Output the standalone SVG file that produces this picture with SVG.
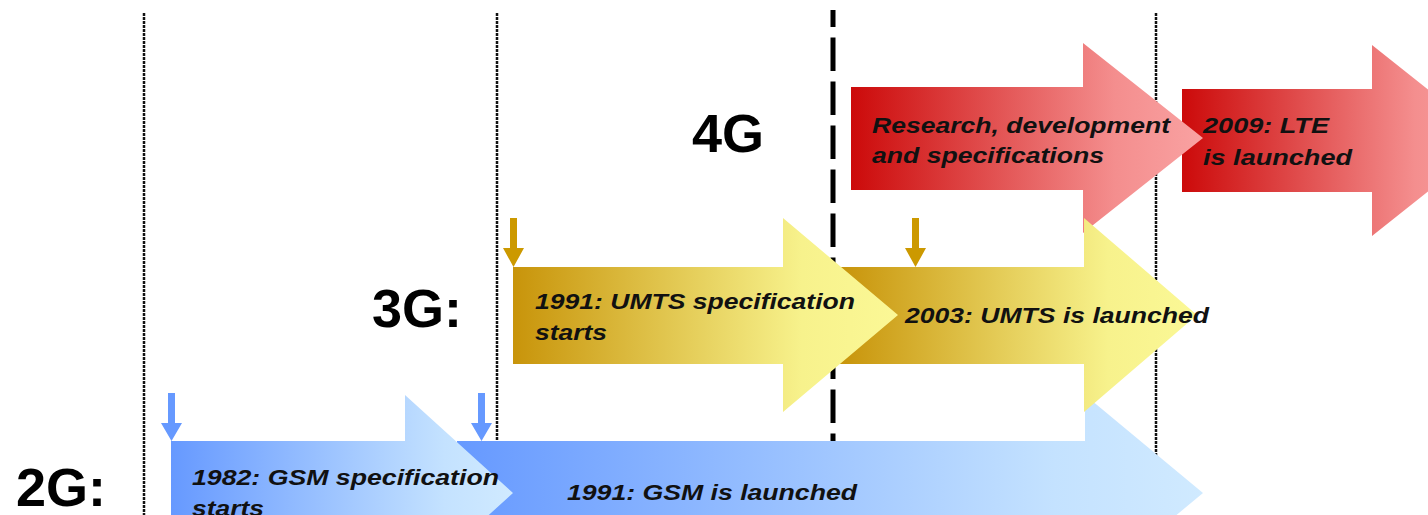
<svg xmlns="http://www.w3.org/2000/svg" width="1428" height="515" viewBox="0 0 1428 515">
<style>
.lbl{font-family:"Liberation Sans",Arial,sans-serif;font-weight:bold;font-style:italic;font-size:22px;fill:#111}
.big{font-family:"Liberation Sans",Arial,sans-serif;font-weight:bold;font-size:54px;fill:#000}
.dot{stroke:#111;stroke-width:2.5;stroke-dasharray:3 1;fill:none}
.dash{stroke:#000;stroke-width:5;stroke-dasharray:33.5 10.5;stroke-dashoffset:16.5;fill:none}
</style>
<defs>
<linearGradient id="gBlue" x1="0" y1="0" x2="1" y2="0">
<stop offset="0" stop-color="#6699FF"/><stop offset="0.8" stop-color="#C4E2FF"/><stop offset="1" stop-color="#D0EAFF"/>
</linearGradient>
<linearGradient id="gGold" x1="0" y1="0" x2="1" y2="0">
<stop offset="0" stop-color="#C8940A"/><stop offset="0.75" stop-color="#F7F28C"/><stop offset="1" stop-color="#FBF896"/>
</linearGradient>
<linearGradient id="gRed" x1="0" y1="0" x2="1" y2="0">
<stop offset="0" stop-color="#CC0A0A"/><stop offset="0.75" stop-color="#F48E8E"/><stop offset="1" stop-color="#F9A2A2"/>
</linearGradient>
</defs>

<g id="gridlines">
<line class="dot" x1="144" y1="13" x2="144" y2="515"/>
<line class="dot" x1="497" y1="13" x2="497" y2="445"/>
<line class="dot" x1="1156" y1="13" x2="1156" y2="470"/>
<line class="dash" x1="833" y1="10" x2="833" y2="445"/>
</g>

<g id="labels">
<text class="big" x="16" y="506">2G:</text>
<text class="big" x="372" y="327">3G:</text>
<text class="big" x="692" y="152">4G</text>
</g>

<g id="lte-launch">
<path d="M1182,89 H1372 V45 L1492,140.5 L1372,236 V192 H1182 Z" fill="url(#gRed)"/>
<text class="lbl" x="1203" y="133" textLength="126" lengthAdjust="spacingAndGlyphs">2009: LTE</text>
<text class="lbl" x="1203" y="165" textLength="149" lengthAdjust="spacingAndGlyphs">is launched</text>
</g>
<g id="research">
<path d="M851,87 H1083 V43 L1203,138 L1083,233 V190 H851 Z" fill="url(#gRed)"/>
<text class="lbl" x="872" y="133" textLength="298" lengthAdjust="spacingAndGlyphs">Research, development</text>
<text class="lbl" x="872" y="163" textLength="232" lengthAdjust="spacingAndGlyphs">and specifications</text>
</g>

<g id="gsm-launch">
<path d="M457,441 H1085 V395 L1203,493 L1085,591 V545 H457 Z" fill="url(#gBlue)"/>
<text class="lbl" x="567" y="500" textLength="290" lengthAdjust="spacingAndGlyphs">1991: GSM is launched</text>
</g>
<g id="gsm-spec">
<path d="M171,441 H405 V395 L513,493 L405,591 V545 H171 Z" fill="url(#gBlue)"/>
<text class="lbl" x="192" y="485" textLength="307" lengthAdjust="spacingAndGlyphs">1982: GSM specification</text>
<text class="lbl" x="192" y="516" textLength="72" lengthAdjust="spacingAndGlyphs">starts</text>
</g>

<g id="umts-launch">
<path d="M840,267 H1084 V218 L1197,315 L1084,412 V364 H840 Z" fill="url(#gGold)"/>
<text class="lbl" x="905" y="323" textLength="304" lengthAdjust="spacingAndGlyphs">2003: UMTS is launched</text>
</g>
<g id="umts-spec">
<path d="M513,267 H783 V218 L898,315 L783,412 V364 H513 Z" fill="url(#gGold)"/>
<text class="lbl" x="535" y="309" textLength="320" lengthAdjust="spacingAndGlyphs">1991: UMTS specification</text>
<text class="lbl" x="535" y="340" textLength="72" lengthAdjust="spacingAndGlyphs">starts</text>
</g>

<g id="markers">
<path d="M168,393 H175 V423 H182 L171.5,441 L161,423 H168 Z" fill="#6699FF"/>
<path d="M478,393 H485 V423 H492 L481.5,441 L471,423 H478 Z" fill="#6699FF"/>
<path d="M510,218 H517 V248 H524 L513.5,267 L503,248 H510 Z" fill="#CC9900"/>
<path d="M912,218 H919 V248 H926 L915.5,267 L905,248 H912 Z" fill="#CC9900"/>
</g>
</svg>
